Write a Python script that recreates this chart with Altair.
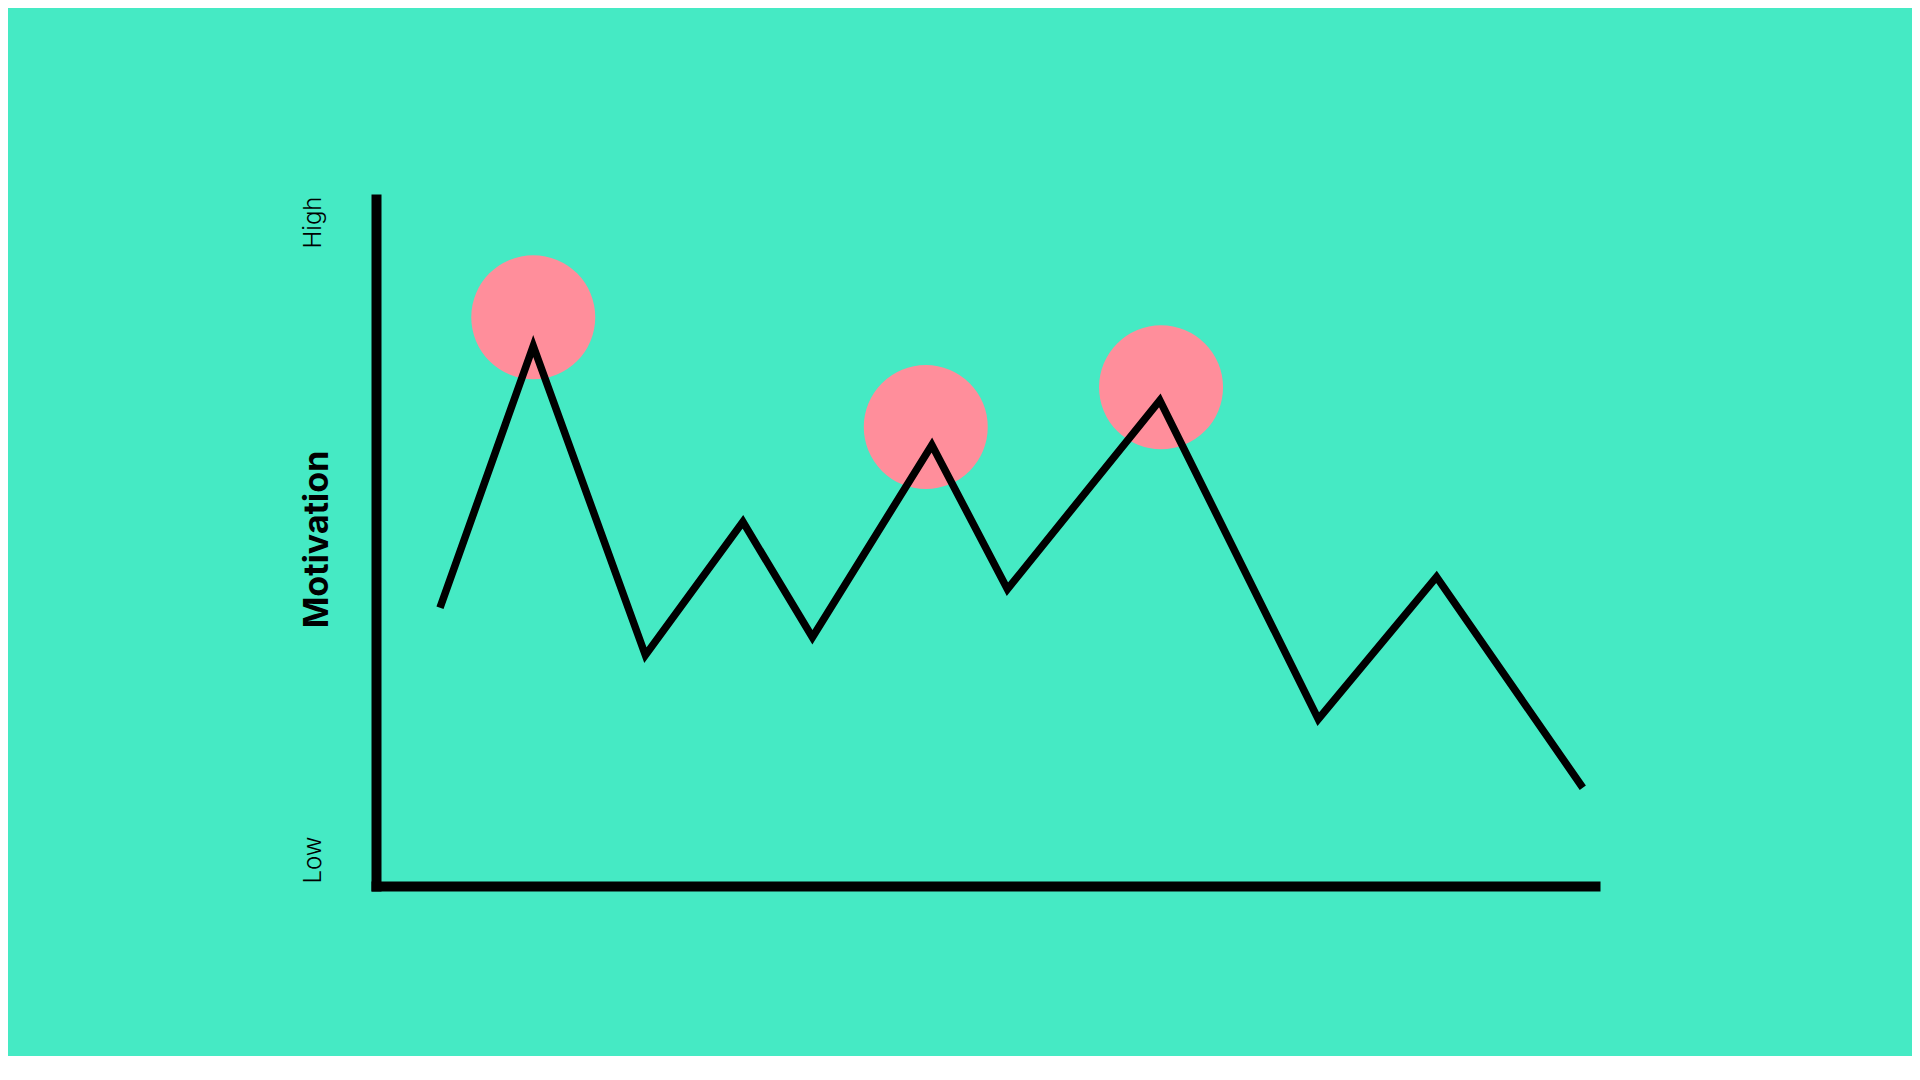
import altair as alt
import pandas as pd

# ---- data ----
time = [5.25, 12.9, 22.1, 30.1, 35.8, 45.6, 51.8, 64.3, 77.3, 87.0, 99.0]
motivation = [40.5, 78.6, 33.6, 53.0, 36.2, 64.2, 43.2, 70.7, 24.3, 45.0, 14.3]
peak_time = [12.9, 45.1, 64.4]
peak_level = [82.8, 66.8, 72.6]
axis_values = [0, 100]
axis_labels = ["Low", "High"]
y_title = "Motivation"

line_df = pd.DataFrame({"time": time, "motivation": motivation,
                        "order": list(range(len(time)))})
peak_df = pd.DataFrame({"time": peak_time, "motivation": peak_level})

BG = "#45EAC4"
PINK = "#FF8E9B"

x_scale = alt.Scale(domain=[0, 100], nice=False, zero=False)
y_scale = alt.Scale(domain=[0, 100], nice=False, zero=False)

label_expr = f"datum.value == {axis_values[1]} ? '{axis_labels[1]}' : '{axis_labels[0]}'"

x_axis = alt.Axis(title=None, labels=False, ticks=False, tickSize=0, grid=False,
                  domain=True, domainColor="black", domainWidth=10,
                  domainCap="square")
y_axis = alt.Axis(
    title=y_title, values=axis_values, labelExpr=label_expr,
    ticks=False, tickSize=0, grid=False,
    domain=True, domainColor="black", domainWidth=10, domainCap="square",
    labelAngle=270, labelFlush=False, labelOverlap=False,
    labelAlign={"condition": {"test": f"datum.value == {axis_values[1]}", "value": "right"},
                "value": "left"},
    labelBaseline="middle", labelPadding=63,
    labelFont="Inter", labelFontSize=24, labelFontWeight=300, labelColor="black",
    labelOffset=-3,
    titleAngle=270, titleX=-59, titleY=340, titleAlign="center",
    titleBaseline="middle", titleFont="Inter", titleFontSize=34,
    titleFontWeight="bold", titleColor="black",
)

circles = alt.Chart(peak_df).mark_circle(size=15376, color=PINK, opacity=1).encode(
    x=alt.X("time:Q", scale=x_scale, axis=x_axis),
    y=alt.Y("motivation:Q", scale=y_scale, axis=y_axis),
)

line = alt.Chart(line_df).mark_line(color="black", strokeWidth=7.5,
                                    strokeJoin="miter", strokeCap="butt").encode(
    x=alt.X("time:Q", scale=x_scale, axis=x_axis),
    y=alt.Y("motivation:Q", scale=y_scale, axis=y_axis),
    order="order:Q",
)

chart = alt.layer(circles, line).properties(
    width=1219, height=687,
    autosize=alt.AutoSizeParams(type="none"),
    padding={"left": 368, "top": 191, "right": 317, "bottom": 170},
    background=BG,
).configure_view(stroke=None)

chart.save("out.html", embed_options={"renderer": "svg", "actions": False})
